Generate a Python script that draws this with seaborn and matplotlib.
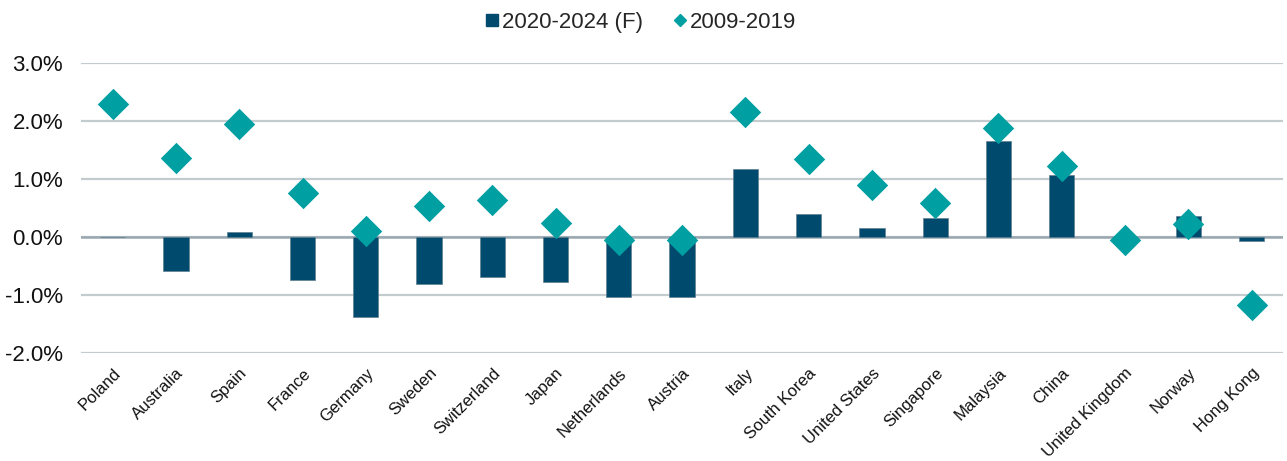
import matplotlib
matplotlib.use("Agg")
import matplotlib.pyplot as plt
import seaborn as sns
import pandas as pd
from matplotlib.lines import Line2D
from matplotlib.ticker import FuncFormatter, MultipleLocator

countries = ["Poland", "Australia", "Spain", "France", "Germany", "Sweden",
             "Switzerland", "Japan", "Netherlands", "Austria", "Italy",
             "South Korea", "United States", "Singapore", "Malaysia", "China",
             "United Kingdom", "Norway", "Hong Kong"]
forecast_2020_2024 = [0.0, -0.59, 0.09, -0.74, -1.38, -0.81, -0.69, -0.78, -1.03,
                      -1.03, 1.17, 0.40, 0.16, 0.33, 1.66, 1.07, 0.0, 0.36, -0.07]
hist_2009_2019 = [2.29, 1.36, 1.95, 0.76, 0.10, 0.53, 0.64, 0.24, -0.05, -0.05,
                  2.16, 1.34, 0.90, 0.59, 1.88, 1.22, -0.05, 0.22, -1.17]
legend_labels = ["2020-2024 (F)", "2009-2019"]

bar_color = "#004A6D"
dia_color = "#009FA1"
grid_color = "#C3CBCE"

df = pd.DataFrame({"country": countries, "f": forecast_2020_2024, "h": hist_2009_2019})

sns.set_theme(style="white")
plt.rcParams["font.family"] = ["Liberation Sans", "DejaVu Sans"]

fig = plt.figure(figsize=(12.87, 4.61), dpi=100)
ax = fig.add_axes([0.063, 0.2343, 0.934, 0.629])

sns.barplot(data=df, x="country", y="f", color=bar_color, width=0.4,
            saturation=1, ax=ax, zorder=2, edgecolor="#5E7F91", linewidth=0.5)
sns.stripplot(data=df, x="country", y="h", jitter=False, marker="D", size=16,
              color=dia_color, ax=ax, zorder=3, linewidth=0)

ax.set_ylim(-2.0, 3.0)
ax.set_xlim(-0.5, len(countries) - 0.5)
ax.yaxis.set_major_locator(MultipleLocator(1.0))
ax.yaxis.set_major_formatter(FuncFormatter(lambda v, p: f"{v:.1f}%"))
ax.grid(axis="y", color=grid_color, linewidth=1.6, zorder=0)
ax.set_axisbelow(True)
ax.axhline(0, color="#9AA8B2", linewidth=1.8, zorder=1.5)
for s in ax.spines.values():
    s.set_visible(False)
ax.set_xlabel("")
ax.set_ylabel("")
ax.tick_params(axis="y", labelsize=16, colors="#111111", length=0, pad=13)
ax.tick_params(axis="x", labelsize=12, colors="#111111", length=0, pad=9)
for lab in ax.get_xticklabels():
    lab.set_rotation(45)
    lab.set_ha("right")
    lab.set_va("top")
    lab.set_rotation_mode("anchor")

handles = [Line2D([], [], marker="s", linestyle="none", color=bar_color, markersize=8),
           Line2D([], [], marker="D", linestyle="none", color=dia_color, markersize=6)]
fig.legend(handles, legend_labels, loc="center", bbox_to_anchor=(0.497, 0.952), ncol=2,
           frameon=False, fontsize=16, handletextpad=0.05, columnspacing=1.3,
           handlelength=0.8)

fig.savefig("out.png", dpi=100)
